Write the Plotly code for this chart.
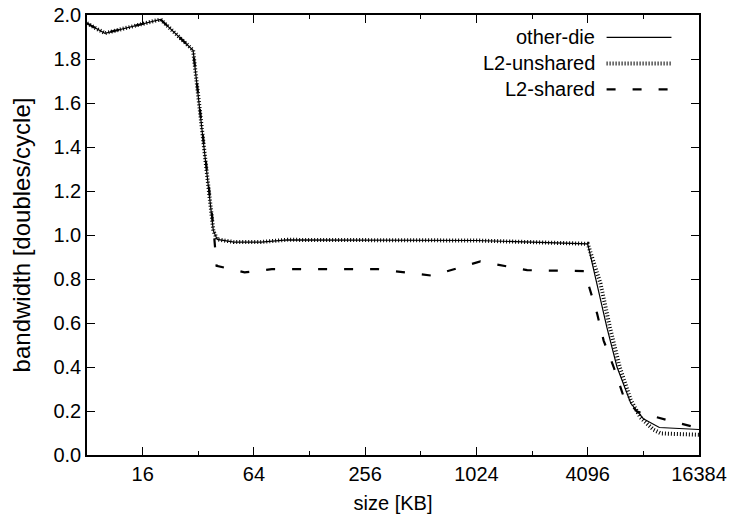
import plotly.graph_objects as go

# ---- data ----
size_other = [8, 10, 20, 30, 38.6, 40.5, 50, 70, 97, 1024, 4096,
              4600, 5200, 5900, 7000, 8192, 9000, 10000, 16384]
bw_other = [1.962, 1.917, 1.98, 1.84, 1.02, 0.98, 0.968, 0.968, 0.978, 0.975, 0.96,
            0.78, 0.58, 0.40, 0.235, 0.165, 0.145, 0.125, 0.116]

size_unshared = [8, 10, 20, 30, 38.6, 40.5, 50, 70, 97, 1024, 4096,
                 4800, 5400, 6100, 7000, 7900, 9300, 10200, 16384]
bw_unshared = [1.962, 1.917, 1.98, 1.84, 1.02, 0.98, 0.968, 0.968, 0.978, 0.975, 0.96,
               0.78, 0.58, 0.40, 0.25, 0.17, 0.115, 0.098, 0.092]

size_shared = [8, 10, 20, 30, 38.6, 40.2, 57, 80, 300, 385, 590, 1075, 1926, 3930,
               4231, 4600, 4995, 5658, 6408, 7575, 11400, 16384]
bw_shared = [1.962, 1.917, 1.98, 1.84, 1.04, 0.86, 0.83, 0.845, 0.845, 0.835, 0.815, 0.88, 0.84, 0.836,
             0.75, 0.644, 0.52, 0.40, 0.265, 0.197, 0.155, 0.122]

series_names = ["other-die", "L2-unshared", "L2-shared"]
major_ticks = [16, 64, 256, 1024, 4096, 16384]
minor_ticks = [32, 128, 512, 2048, 8192]
y_ticks = [0.0, 0.2, 0.4, 0.6, 0.8, 1.0, 1.2, 1.4, 1.6, 1.8, 2.0]

FONT = "Liberation Sans, Arial, Helvetica, sans-serif"
FS = 20

styles = [
    dict(color="black", width=1.2, dash="solid"),
    dict(color="black", width=4, dash="1px,2px"),
    dict(color="black", width=2.2, dash="9px,17px"),
]

fig = go.Figure()
for xs, ys, name, st in zip([size_other, size_unshared, size_shared],
                            [bw_other, bw_unshared, bw_shared],
                            series_names, styles):
    fig.add_trace(go.Scatter(x=xs, y=ys, mode="lines", name=name,
                             line=st, showlegend=False))

# legend (text left, sample right, like gnuplot)
leg_y = [0.949, 0.890, 0.831]
for name, st, yy in zip(series_names, styles, leg_y):
    fig.add_annotation(x=0.834, y=yy, xref="paper", yref="paper", text=name,
                       showarrow=False, xanchor="right", yanchor="middle",
                       font=dict(family=FONT, size=FS, color="black"))
    fig.add_shape(type="line", xref="paper", yref="paper",
                  x0=0.849, x1=0.955, y0=yy, y1=yy,
                  line=dict(color="black", width=st["width"], dash=st["dash"]))

axis_common = dict(
    showline=True, linecolor="black", linewidth=1.5, mirror="ticks",
    ticks="inside", tickcolor="black", tickwidth=1, ticklen=8,
    showgrid=False, zeroline=False, automargin=False,
    tickfont=dict(family=FONT, size=FS, color="black"),
)

fig.update_xaxes(
    type="log", range=[0.90309, 4.21442],
    tickmode="array", tickvals=major_ticks, ticktext=[str(v) for v in major_ticks],
    minor=dict(tickmode="array", tickvals=minor_ticks, ticks="inside",
               ticklen=4, tickcolor="black", showgrid=False),
    title=dict(text="size [KB]", font=dict(family=FONT, size=FS, color="black"), standoff=12),
    **axis_common,
)
fig.update_yaxes(
    range=[0, 2.0], tickmode="array", tickvals=y_ticks,
    ticktext=[f"{v:.1f}" for v in y_ticks],
    title=dict(text="bandwidth [doubles/cycle]", font=dict(family=FONT, size=24, color="black"), standoff=16),
    **axis_common,
)

fig.update_layout(
    width=735, height=515,
    margin=dict(l=87, r=36, t=15, b=60),
    paper_bgcolor="white", plot_bgcolor="white",
    font=dict(family=FONT, size=FS, color="black"),
)

fig.write_html("out.html")
